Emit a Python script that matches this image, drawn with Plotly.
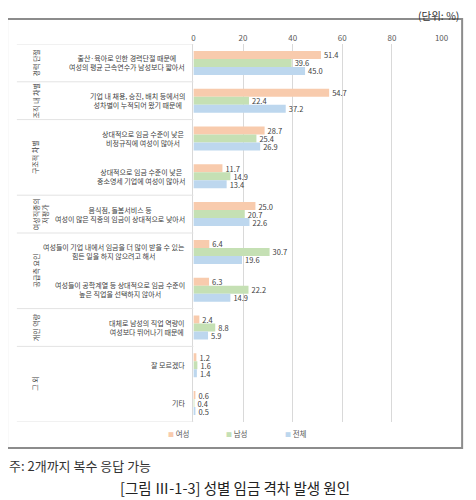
import plotly.graph_objects as go

# data
categories = [
    '출산·육아로 인한 경력단절 때문에<br>여성의 평균 근속연수가 남성보다 짧아서',
    '기업 내 채용, 승진, 배치 등에서의<br>성차별이 누적되어 왔기 때문에',
    '상대적으로 임금 수준이 낮은<br>비정규직에 여성이 많아서',
    '상대적으로 임금 수준이 낮은<br>중소영세 기업에 여성이 많아서',
    '음식점, 돌봄서비스 등<br>여성이 많은 직종의 임금이 상대적으로 낮아서',
    '여성들이 기업 내에서 임금을 더 많이 받을 수 있는<br>힘든 일을 하지 않으려고 해서',
    '여성들이 공학계열 등 상대적으로 임금 수준이<br>높은 직업을 선택하지 않아서',
    '대체로 남성의 직업 역량이<br>여성보다 뛰어나기 때문에',
    '잘 모르겠다',
    '기타',
]
women = [51.4, 54.7, 28.7, 11.7, 25.0, 6.4, 6.3, 2.4, 1.2, 0.6]
men = [39.6, 22.4, 25.4, 14.9, 20.7, 30.7, 22.2, 8.8, 1.6, 0.4]
total = [45.0, 37.2, 26.9, 13.4, 22.6, 19.6, 14.9, 5.9, 1.4, 0.5]
series_names = ['여성', '남성', '전체']
colors = ['#F8CBAD', '#C5E0B4', '#BDD7EE']

groups = ['경력 단절', '조직 내 차별', '구조적 차별', '여성직종의<br>저평가', '공급측 요인', '개인 역량', '그 외']
group_sizes = [1, 1, 2, 1, 2, 1, 2]

x_ticks = [0, 20, 40, 60, 80, 100]

# page body has an 8px margin, so the figure is 468x492 and sits at (8, 8)
W, H = 468, 492
OFF = 8
FONT = 'Noto Sans CJK KR'
TXT = '#404040'


def px(x):
    return (x - OFF) / W


def py(y):
    return 1 - (y - OFF) / H


fig = go.Figure()
for name, vals, col in zip(series_names, [women, men, total], colors):
    fig.add_trace(go.Bar(
        y=categories, x=vals, orientation='h', name=name,
        marker=dict(color=col, line=dict(width=0)),
        text=vals, texttemplate='%{x:.1f}', textposition='outside',
        textfont=dict(size=7.5, color=TXT, family=FONT),
        constraintext='none', cliponaxis=False, showlegend=False,
    ))

# category labels (centered lines, right edge next to the axis)
annotations = []
for c in categories:
    annotations.append(dict(
        x=px(188), xref='paper', y=c, yref='y', text=c, showarrow=False,
        xanchor='right', yanchor='middle', align='center',
        font=dict(size=7, color=TXT, family=FONT),
    ))

# group labels and separators
shapes = []
sep = dict(color='#e3e3e3', width=1)
shapes.append(dict(type='line', xref='paper', yref='y', x0=px(15), x1=px(195),
                   y0=-0.5, y1=-0.5, line=sep))
start = 0
for g, n in zip(groups, group_sizes):
    mid = start + (n - 1) / 2
    annotations.append(dict(
        x=px(27), xref='paper', y=mid, yref='y', text=g, showarrow=False,
        textangle=-90, font=dict(size=7, color=TXT, family=FONT),
    ))
    start += n
    shapes.append(dict(type='line', xref='paper', yref='y', x0=px(15), x1=px(195),
                       y0=start - 0.5, y1=start - 0.5, line=sep))

# outer frame
shapes.append(dict(type='rect', xref='paper', yref='paper',
                   x0=px(5), x1=px(469), y0=py(448), y1=py(19),
                   line=dict(color='#8c8c8c', width=2)))

# legend (small squares right before the names)
legend_x = [167, 226, 286]
for name, col, lx in zip(series_names, colors, legend_x):
    annotations.append(dict(
        x=px(lx), y=py(433), xref='paper', yref='paper',
        text='<span style="color:%s;font-size:6px">■</span> %s' % (col, name),
        showarrow=False, xanchor='left', yanchor='middle',
        font=dict(size=7.5, color='#595959', family=FONT),
    ))

annotations += [
    dict(x=px(468), y=py(15), xref='paper', yref='paper', text='(단위: %)',
         showarrow=False, xanchor='right', yanchor='middle',
         font=dict(size=10.5, color='#333333', family=FONT)),
    dict(x=px(5), y=py(465), xref='paper', yref='paper', text='주: 2개까지 복수 응답 가능',
         showarrow=False, xanchor='left', yanchor='middle',
         font=dict(size=13, color='#333333', family=FONT)),
    dict(x=px(237), y=py(487), xref='paper', yref='paper',
         text='[그림 Ⅲ-1-3] 성별 임금 격차 발생 원인',
         showarrow=False, xanchor='center', yanchor='middle',
         font=dict(size=14.5, color='#222222', family=FONT)),
]

fig.update_layout(
    width=W, height=H,
    margin=dict(l=0, r=0, t=0, b=0),
    paper_bgcolor='white', plot_bgcolor='white',
    barmode='group', bargap=0.365, bargroupgap=0,
    font=dict(family=FONT, size=8, color=TXT),
    showlegend=False,
    xaxis=dict(domain=[px(195), px(448)], range=[0, 100], side='top',
               tickvals=x_ticks, showgrid=True, gridcolor='#d9d9d9', gridwidth=1,
               zeroline=False, showline=False, ticks='',
               tickfont=dict(size=8, color='#595959')),
    yaxis=dict(domain=[py(422), py(44)], range=[9.5, -0.5],
               showticklabels=False, showgrid=False, ticks='',
               showline=True, linecolor='#d9d9d9', linewidth=1, zeroline=False),
    shapes=shapes, annotations=annotations,
)

fig.write_html('out.html')
